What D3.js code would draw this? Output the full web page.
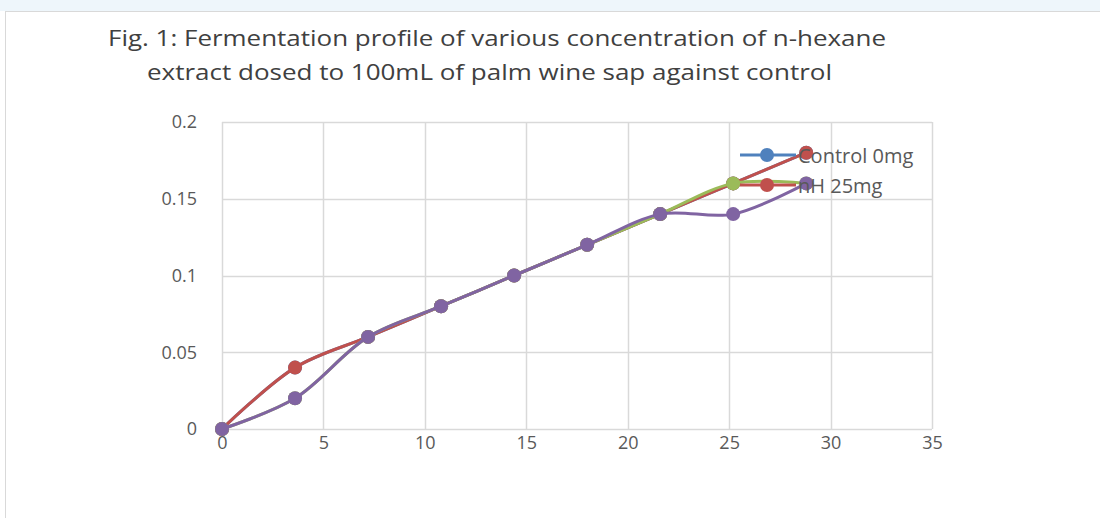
<!DOCTYPE html>
<html>
<head>
<meta charset="utf-8">
<script src="https://cdn.jsdelivr.net/npm/d3@7"></script>
<style>
  body { margin: 0; background: #fff; }
  svg { display: block; font-family: "Open Sans", "Noto Sans", sans-serif; }
</style>
</head>
<body>
<div id="chart"></div>
<script>
// data
var titleLines = ["Fig. 1: Fermentation profile of various concentration of  n-hexane",
                  "extract dosed to 100mL of palm wine sap against control"];
var xValues = [0, 3.6, 7.2, 10.8, 14.4, 18, 21.6, 25.2, 28.8];
var seriesNames = ["Control 0mg", "nH 25mg", "nH 50mg", "nH 100mg"];
var control0 = [0, 0.04, 0.06, 0.08, 0.10, 0.12, 0.14, 0.16, 0.18];
var nh25 =     [0, 0.04, 0.06, 0.08, 0.10, 0.12, 0.14, 0.16, 0.18];
var nh50 =     [0, 0.02, 0.06, 0.08, 0.10, 0.12, 0.14, 0.16, 0.16];
var nh100 =    [0, 0.02, 0.06, 0.08, 0.10, 0.12, 0.14, 0.14, 0.16];
var xTicks = [0, 5, 10, 15, 20, 25, 30, 35];
var yTicks = [0, 0.05, 0.1, 0.15, 0.2];
var legendNames = ["Control 0mg", "nH 25mg"];

var colors = ["#4F81BD", "#C0504D", "#9BBB59", "#8064A2"];
var allSeries = [control0, nh25, nh50, nh100];

var width = 1100, height = 518;
var margin = { top: 122, right: 168, bottom: 89, left: 222 };

var svg = d3.select('#chart').append('svg')
    .attr('width', width)
    .attr('height', height);

// faint banner at top and chart frame
svg.append('rect').attr('x', 0).attr('y', 0).attr('width', width).attr('height', 11)
    .attr('fill', '#eef6fb');
svg.append('rect').attr('x', 5.5).attr('y', 11.5).attr('width', width + 10).attr('height', height)
    .attr('fill', '#fff').attr('stroke', '#d9d9d9');

// title
svg.selectAll('.title').data(titleLines).enter().append('text')
    .attr('class', 'title')
    .attr('x', function (d, i) { return i == 0 ? 108 : 147; })
    .attr('y', function (d, i) { return 46 + i * 34; })
    .attr('textLength', function (d, i) { return i == 0 ? 778 : 685; })
    .attr('lengthAdjust', 'spacingAndGlyphs')
    .style('font-size', '22px')
    .style('fill', '#404040')
    .text(function (d) { return d; });

var xScale = d3.scaleLinear().domain([0, 35]).range([margin.left, width - margin.right]);
var yScale = d3.scaleLinear().domain([0, 0.2]).range([height - margin.bottom, margin.top]);

// gridlines
svg.append('g')
    .selectAll('line').data(xTicks).enter().append('line')
    .attr('x1', function (d) { return Math.round(xScale(d)) + 0.5; })
    .attr('x2', function (d) { return Math.round(xScale(d)) + 0.5; })
    .attr('y1', yScale(0)).attr('y2', yScale(0.2))
    .attr('stroke', '#d9d9d9').attr('stroke-width', 1.5);
svg.append('g')
    .selectAll('line').data(yTicks).enter().append('line')
    .attr('x1', xScale(0)).attr('x2', xScale(35))
    .attr('y1', function (d) { return Math.round(yScale(d)) + 0.5; })
    .attr('y2', function (d) { return Math.round(yScale(d)) + 0.5; })
    .attr('stroke', '#d9d9d9').attr('stroke-width', 1.5);

// axes (labels only, Excel style)
var xAxis = svg.append('g')
    .attr('transform', 'translate(0,' + (height - margin.bottom) + ')')
    .call(d3.axisBottom(xScale).tickValues(xTicks).tickSize(0).tickPadding(7));
var yAxis = svg.append('g')
    .attr('transform', 'translate(' + margin.left + ',0)')
    .call(d3.axisLeft(yScale).tickValues(yTicks).tickSize(0).tickPadding(25).tickFormat(d3.format('')));
[xAxis, yAxis].forEach(function (a) {
    a.select('.domain').remove();
    a.selectAll('text').style('font-size', '18px').style('fill', '#595959')
        .style('font-family', '"Open Sans", sans-serif');
});

// lines and markers
var line = d3.line()
    .x(function (d, i) { return xScale(xValues[i]); })
    .y(function (d) { return yScale(d); })
    .curve(d3.curveCatmullRom.alpha(0.5));

allSeries.forEach(function (values, s) {
    svg.append('path')
        .datum(values)
        .attr('d', line)
        .attr('fill', 'none')
        .attr('stroke', colors[s])
        .attr('stroke-width', 3);
    svg.append('g').selectAll('circle').data(values).enter().append('circle')
        .attr('cx', function (d, i) { return xScale(xValues[i]); })
        .attr('cy', function (d) { return yScale(d); })
        .attr('r', 7)
        .attr('fill', colors[s]);
});

// legend (drawn over the plot, as in the figure)
var legend = svg.append('g').attr('transform', 'translate(740,155)');
legendNames.forEach(function (name, i) {
    var g = legend.append('g').attr('transform', 'translate(0,' + (i * 30) + ')');
    g.append('line').attr('x1', 0).attr('x2', 56).attr('y1', 0).attr('y2', 0)
        .attr('stroke', colors[i]).attr('stroke-width', 3);
    g.append('circle').attr('cx', 27).attr('cy', 0).attr('r', 7).attr('fill', colors[i]);
    g.append('text').attr('x', 58).attr('y', 8)
        .style('font-size', '20px').style('fill', '#595959')
        .text(name);
});
</script>
</body>
</html>
